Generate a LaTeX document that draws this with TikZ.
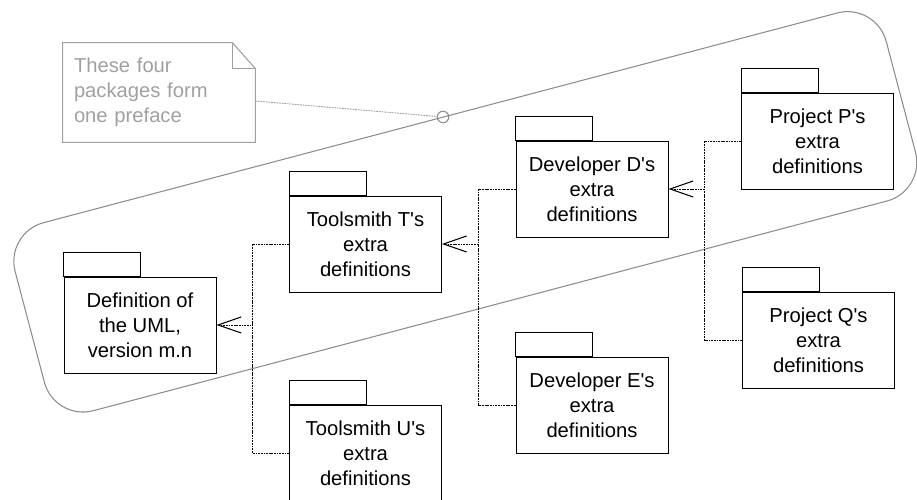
\documentclass[tikz,border=0pt]{standalone}
\usepackage{fontspec}
\setmainfont{Liberation Sans}
\usetikzlibrary{arrows.meta}

\begin{document}
\begin{tikzpicture}[
    package/.style={draw, line width=0.55pt, minimum width=3.04cm, minimum height=1.92cm,
        inner sep=0pt, align=center, font=\fontsize{11.5}{14.2}\selectfont},
    tab/.style={line width=0.55pt},
    dep/.style={line width=0.55pt, dash pattern=on 1pt off 0.5pt,
        -{Straight Barb[length=0.46cm, width=0.32cm, line width=0.6pt]}},
    depline/.style={line width=0.55pt, dash pattern=on 1pt off 0.5pt},
    notebox/.style={text=notegray, minimum width=3.84cm, minimum height=1.98cm,
        text width=3.4cm, inner xsep=0.22cm, align=left, font=\fontsize{11.5}{14.2}\selectfont},
    noteline/.style={draw=notegray, line width=0.6pt},
    notelink/.style={draw=notegray, line width=0.5pt, dash pattern=on 1pt off 0.5pt},
    region/.style={draw=regiongray, line width=0.6pt}
]
    \definecolor{notegray}{HTML}{A0A0A0}
    \definecolor{regiongray}{HTML}{8C8C8C}
    \useasboundingbox (0,0) rectangle (18.34,10);
    %\draw[help lines] (0,0) grid (18,10);

    % the preface
    \draw[region, rotate=14.8, rounded corners=0.8cm]
        (1.46,1.25) -- (19.48,1.25) -- (19.48,5.14) -- (1.46,5.14) -- cycle;
    \node[circle, draw=regiongray, line width=0.6pt, minimum size=0.23cm, inner sep=0pt] (hook) at (8.86,7.66) {};

    \node[notebox] (note) at (3.18,8.15) {These four\\packages form\\one preface};
    \draw[noteline] (note.north west) -- ([xshift=-0.46cm]note.north east)
        -- ([yshift=-0.52cm]note.north east) -- (note.south east) -- (note.south west) -- cycle;
    \draw[noteline] ([xshift=-0.46cm]note.north east) |- ([yshift=-0.52cm]note.north east);
    \draw[notelink] ([yshift=-0.17cm]note.east) -- (hook);

    % packages
    \node[package] (uml) at (2.80,3.50) {Definition of\\the UML,\\version m.n};
    \node[package] (tsT) at (7.31,5.12) {Toolsmith T\textquotesingle s\\extra\\definitions};
    \node[package] (tsU) at (7.31,0.94) {Toolsmith U\textquotesingle s\\extra\\definitions};
    \node[package] (devD) at (11.84,6.22) {Developer D\textquotesingle s\\extra\\definitions};
    \node[package] (devE) at (11.84,1.90) {Developer E\textquotesingle s\\extra\\definitions};
    \node[package] (prjP) at (16.35,7.18) {Project P\textquotesingle s\\extra\\definitions};
    \node[package] (prjQ) at (16.37,3.20) {Project Q\textquotesingle s\\extra\\definitions};
    \foreach \p in {uml,tsT,tsU,devD,devE,prjP,prjQ}
        \draw[tab] (\p.north west) rectangle ++(1.54,0.48);

    % dependencies
    \draw[dep] (tsT.west) -- ++(-0.73,0) coordinate (forkT) |- (uml.east);
    \draw[depline] (tsU.west) -| (forkT |- uml.east);
    \draw[dep] (devD.west) -- ++(-0.74,0) coordinate (forkD) |- (tsT.east);
    \draw[depline] (devE.west) -| (forkD |- tsT.east);
    \draw[dep] (prjP.west) -- ++(-0.73,0) coordinate (forkP) |- (devD.east);
    \draw[depline] (prjQ.west) -| (forkP |- devD.east);
\end{tikzpicture}
\end{document}
